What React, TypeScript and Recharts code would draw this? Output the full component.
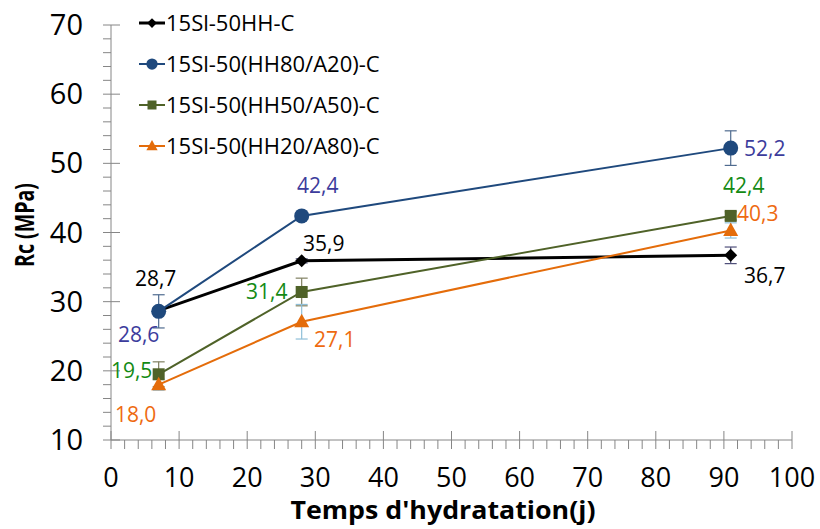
import React from 'react';
import { LineChart, Line, XAxis, YAxis, ErrorBar, LabelList, Legend } from 'recharts';

const days = [7, 28, 91];
const seriesNames = ['15Sl-50HH-C', '15Sl-50(HH80/A20)-C', '15Sl-50(HH50/A50)-C', '15Sl-50(HH20/A80)-C'];
const hhValues = [28.7, 35.9, 36.7];
const hh80Values = [28.6, 42.4, 52.2];
const hh50Values = [19.5, 31.4, 42.4];
const hh20Values = [18.0, 27.1, 40.3];
const hhErrors = [0.4, 0.3, 1.2];
const hh80Errors = [2.4, 0.4, 2.5];
const hh50Errors = [1.8, 2.0, 0.6];
const hh20Errors = [0.8, 2.5, 1.1];
const xTicks = [0, 2, 4, 6, 8, 10, 12, 14, 16, 18, 20, 22, 24, 26, 28, 30, 32, 34, 36, 38, 40, 42, 44, 46, 48, 50,
  52, 54, 56, 58, 60, 62, 64, 66, 68, 70, 72, 74, 76, 78, 80, 82, 84, 86, 88, 90, 92, 94, 96, 98, 100];
const yTicks = [10, 12, 14, 16, 18, 20, 22, 24, 26, 28, 30, 32, 34, 36, 38, 40, 42, 44, 46, 48, 50,
  52, 54, 56, 58, 60, 62, 64, 66, 68, 70];

// label placement (dx, dy from the point), as in the original figure
const hhLabelOffsets = [[-3, -32], [22, -17], [34, 20]];
const hh80LabelOffsets = [[-20, 23], [16, -30], [34, 0]];
const hh50LabelOffsets = [[-27, -4], [-35, 0], [13, -30]];
const hh20LabelOffsets = [[-23, 30], [33, 18], [27, -17]];

const FONT = '"Open Sans", "Noto Sans", sans-serif';
const AXIS_GRAY = '#868686';

const series = [
  { key: 'hh', name: seriesNames[0], values: hhValues, errors: hhErrors, color: '#000000', width: 3,
    labelColor: '#000000', errColor: '#50507a', offsets: hhLabelOffsets, shape: 'diamond' },
  { key: 'hh80', name: seriesNames[1], values: hh80Values, errors: hh80Errors, color: '#1f497d', width: 2,
    labelColor: '#3c3c9c', errColor: '#4f6b8f', offsets: hh80LabelOffsets, shape: 'circle' },
  { key: 'hh50', name: seriesNames[2], values: hh50Values, errors: hh50Errors, color: '#4f6228', width: 2,
    labelColor: '#138a13', errColor: '#7f7f60', offsets: hh50LabelOffsets, shape: 'square' },
  { key: 'hh20', name: seriesNames[3], values: hh20Values, errors: hh20Errors, color: '#e46c0a', width: 2,
    labelColor: '#ee6a10', errColor: '#8fbfd8', offsets: hh20LabelOffsets, shape: 'triangle' },
];

const data = days.map((d, i) => {
  const row: Record<string, number> = { day: d };
  series.forEach((s) => {
    row[s.key] = s.values[i];
    row[s.key + 'Err'] = s.errors[i];
  });
  return row;
});

function marker(shape: string, cx: number, cy: number, color: string, big: boolean, key?: string) {
  const k = big ? 1 : 0.75;
  if (shape === 'diamond') {
    const s = 6.5 * k;
    return <polygon key={key} points={`${cx},${cy - s} ${cx + s},${cy} ${cx},${cy + s} ${cx - s},${cy}`} fill={color} />;
  }
  if (shape === 'circle') {
    return <circle key={key} cx={cx} cy={cy} r={7.5 * k} fill={color} />;
  }
  if (shape === 'square') {
    const s = 6 * k;
    return <rect key={key} x={cx - s} y={cy - s} width={2 * s} height={2 * s} fill={color} />;
  }
  const w = 7.5 * k;
  return <polygon key={key} points={`${cx},${cy - 8 * k} ${cx + w},${cy + 5.5 * k} ${cx - w},${cy + 5.5 * k}`} fill={color} />;
}

const XTick = (props: any) => {
  const { x, y, payload } = props;
  const v = payload.value;
  const major = v % 10 === 0;
  return (
    <g>
      <line x1={x} x2={x} y1={major ? y - 9 : y} y2={y + 9} stroke={AXIS_GRAY} strokeWidth={1} />
      {major && (
        <text x={x} y={y + 47} textAnchor="middle" fontSize={27} fontFamily={FONT} fill="#000">{v}</text>
      )}
    </g>
  );
};

const YTick = (props: any) => {
  const { x, y, payload } = props;
  const v = payload.value;
  const major = v % 10 === 0;
  return (
    <g>
      <line x1={x - 8} x2={major ? x + 9 : x} y1={y} y2={y} stroke={AXIS_GRAY} strokeWidth={1} />
      {major && (
        <text x={x - 28} y={y + 10} textAnchor="end" fontSize={29} fontFamily={FONT} fill="#000">{v}</text>
      )}
    </g>
  );
};

const LegendContent = () => (
  <div style={{ display: 'flex', flexDirection: 'column', fontFamily: FONT }}>
    {series.map((s) => (
      <div key={s.key} style={{ display: 'flex', alignItems: 'center', height: 41 }}>
        <svg width={27} height={20} style={{ display: 'block' }}>
          <line x1={0} x2={26} y1={10} y2={10} stroke={s.color} strokeWidth={s.width} />
          {marker(s.shape, 13, 10, s.color, false)}
        </svg>
        <span style={{ fontSize: 22, color: '#000', lineHeight: '41px', whiteSpace: 'nowrap' }}>{s.name}</span>
      </div>
    ))}
  </div>
);

export default function App() {
  return (
    <div style={{ position: 'absolute', left: 0, top: 0, width: 820, height: 529, background: '#fff', fontFamily: FONT }}>
      <LineChart width={820} height={529} data={data} margin={{ top: 25, right: 28, left: 0, bottom: 0 }}>
        <XAxis
          type="number"
          dataKey="day"
          domain={[0, 100]}
          ticks={xTicks}
          interval={0}
          tickSize={0}
          tickMargin={0}
          tickLine={false}
          tick={<XTick />}
          axisLine={{ stroke: AXIS_GRAY }}
          height={89}
        />
        <YAxis
          type="number"
          domain={[10, 70]}
          ticks={yTicks}
          interval={0}
          tickSize={0}
          tickMargin={0}
          tickLine={false}
          tick={<YTick />}
          axisLine={{ stroke: AXIS_GRAY }}
          width={111}
        />
        <Legend
          layout="vertical"
          align="center"
          verticalAlign="middle"
          content={<LegendContent />}
          wrapperStyle={{ left: 139, top: 2, width: 320, height: 170 }}
        />
        {series.map((s) => (
          <Line
            key={s.key}
            dataKey={s.key}
            name={s.name}
            stroke={s.color}
            strokeWidth={s.width}
            isAnimationActive={false}
            dot={(p: any) => marker(s.shape, p.cx, p.cy, s.color, true, `${s.key}-${p.index}`)}
            activeDot={false}
          >
            <ErrorBar dataKey={s.key + 'Err'} width={6} stroke={s.errColor} strokeWidth={1.2} direction="y" />
            <LabelList
              dataKey={s.key}
              content={(p: any) => {
                const off = s.offsets[p.index] || [0, 0];
                return (
                  <text
                    x={p.x + off[0]}
                    y={p.y + off[1] + 7.5}
                    textAnchor="middle"
                    fontSize={21}
                    fontFamily={FONT}
                    fill={s.labelColor}
                  >
                    {Number(p.value).toFixed(1).replace('.', ',')}
                  </text>
                );
              }}
            />
          </Line>
        ))}
        <text x={443} y={519} textAnchor="middle" fontSize={25} fontWeight="bold" fontFamily={FONT} fill="#000"
          textLength={305} lengthAdjust="spacingAndGlyphs">
          Temps d'hydratation(j)
        </text>
        <text x={34} y={225} transform="rotate(-90 34 225)" textAnchor="middle" fontSize={26} fontWeight="bold"
          fontFamily={FONT} fill="#000" textLength={84} lengthAdjust="spacingAndGlyphs">
          Rc (MPa)
        </text>
      </LineChart>
    </div>
  );
}
